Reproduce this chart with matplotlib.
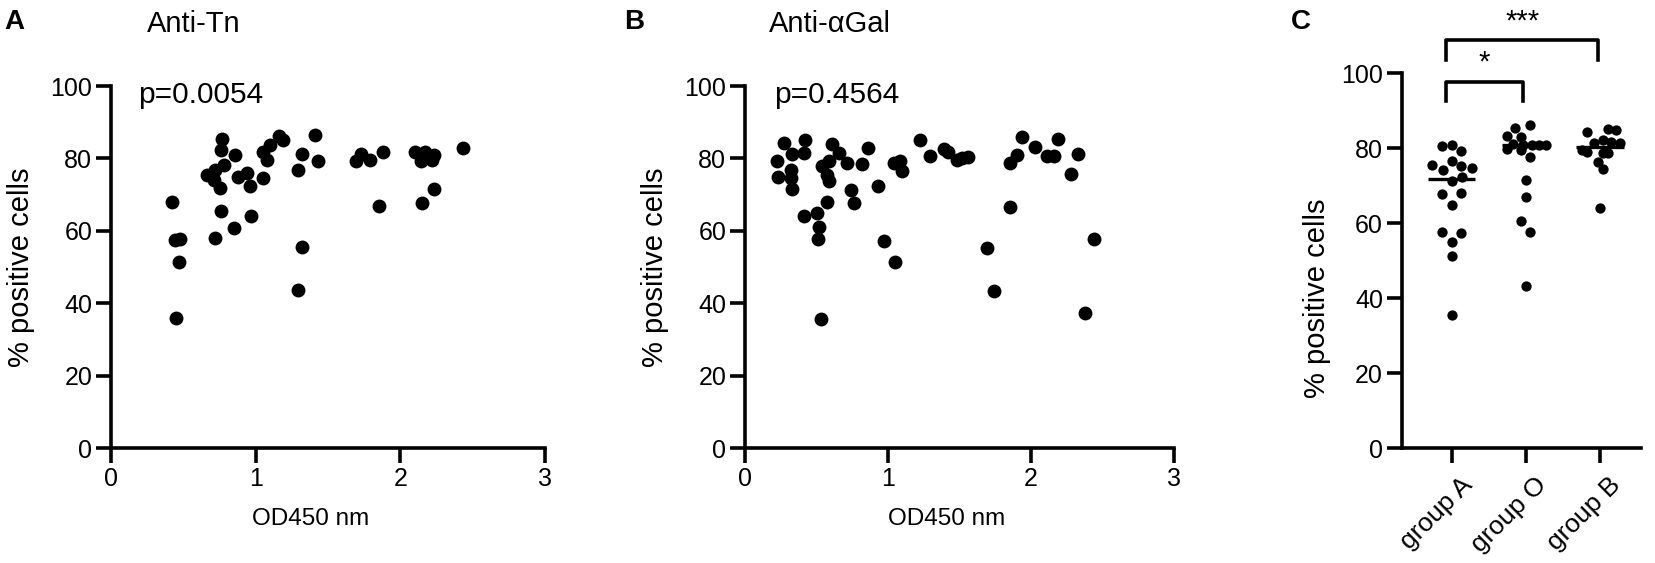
import numpy as np
import matplotlib
matplotlib.use('Agg')
import matplotlib.pyplot as plt
import matplotlib.transforms as mtransforms

plt.rcParams['font.family'] = ['Liberation Sans', 'DejaVu Sans']

# panel A - anti-Tn vs % positive cells
tn_od = [0.77, 0.76, 0.86, 0.78, 0.66, 0.72, 0.71, 0.75, 0.88, 0.94, 0.96, 1.05, 1.08, 1.05, 1.10,
         1.16, 1.19, 1.41, 1.32, 1.43, 1.29, 0.42, 0.76, 0.97, 0.85, 0.72, 0.44, 0.48, 0.47, 1.32,
         1.29, 0.45, 1.69, 1.73, 1.79, 1.88, 1.85, 2.10, 2.17, 2.23, 2.14, 2.22, 2.23, 2.15, 2.43]
tn_pct = [85.4, 82.4, 81.0, 78.3, 75.5, 76.9, 74.1, 71.8, 75.0, 76.0, 72.5, 74.6, 79.6, 81.9, 83.8,
          86.1, 85.2, 86.5, 81.3, 79.2, 76.7, 68.1, 65.4, 64.2, 60.8, 58.0, 57.5, 57.8, 51.5, 55.5,
          43.7, 35.9, 79.4, 81.3, 79.6, 81.9, 66.9, 81.8, 81.7, 81.0, 79.2, 79.6, 71.6, 67.8, 82.9]

# panel B - anti-alphaGal
gal_od = [0.22, 0.23, 0.27, 0.33, 0.32, 0.32, 0.33, 0.42, 0.41, 0.41, 0.50, 0.52, 0.51, 0.57, 0.54,
          0.57, 0.59, 0.59, 0.61, 0.66, 0.71, 0.74, 0.76, 0.86, 0.82, 0.93, 0.97, 1.05, 1.04, 1.08,
          1.10, 1.22, 1.29, 1.39, 1.42, 1.48, 1.52, 1.56, 1.85, 1.90, 1.94, 2.03, 2.11, 2.16, 2.19,
          2.33, 2.28, 1.85, 1.69, 1.74, 2.44, 2.38, 0.53]
gal_pct = [79.4, 74.8, 84.4, 81.1, 76.9, 74.6, 71.6, 85.0, 81.6, 64.1, 65.0, 61.1, 57.8, 67.9, 77.8,
           75.5, 73.7, 79.4, 83.9, 81.6, 78.8, 71.3, 67.6, 82.8, 78.5, 72.3, 57.2, 51.3, 78.8, 79.4,
           76.5, 85.0, 80.6, 82.5, 81.8, 79.7, 80.2, 80.4, 78.8, 80.9, 86.0, 83.2, 80.8, 80.8, 85.5,
           81.3, 75.7, 66.7, 55.2, 43.4, 57.8, 37.3, 35.7]

# panel C - blood groups (jit = horizontal spread of the dots)
groups = ['group A', 'group O', 'group B']
grpA = [80.6, 80.9, 79.4, 75.5, 74.2, 76.7, 75.3, 74.7, 71.3, 72.4, 67.7, 68.0, 64.9, 57.8, 57.3,
        55.1, 51.3, 35.5]
grpA_jit = [-0.13, 0, 0.13, -0.26, -0.12, 0, 0.13, 0.27, 0.01, 0.14, -0.13, 0.13, 0, -0.13, 0.13,
            0, 0, 0]
grpO = [86.2, 85.3, 83.3, 82.9, 81.2, 81.0, 81.0, 80.8, 80.8, 79.7, 79.5, 77.8, 71.5, 67.1, 60.6,
        57.8, 43.3]
grpO_jit = [0.05, -0.15, -0.26, -0.06, -0.17, -0.04, 0.08, 0.17, 0.27, -0.25, -0.06, 0.05, 0, 0,
            -0.06, 0.05, 0]
grpB = [84.3, 85.1, 84.9, 81.3, 79.5, 79.1, 82.2, 81.8, 81.5, 78.8, 78.8, 76.4, 74.4, 64.0]
grpB_jit = [-0.18, 0.11, 0.21, -0.09, -0.25, -0.18, 0.04, 0.15, 0.27, 0.04, 0.11, -0.03, 0.04, 0]

LW = 2.6
FS_TICK = 18
FS_LAB = 21

fig = plt.figure(figsize=(16.55, 5.63), dpi=100)


def style(ax):
    for s in ['top', 'right']:
        ax.spines[s].set_visible(False)
    for s in ['left', 'bottom']:
        ax.spines[s].set_linewidth(LW)
    ax.tick_params(width=LW, length=10.5, labelsize=FS_TICK, direction='out', pad=3)
    ax.set_ylim(0, 100)
    ax.set_yticks([0, 20, 40, 60, 80, 100])


axA = fig.add_axes([0.0671, 0.2037, 0.2622, 0.6435])
axA.scatter(tn_od, tn_pct, s=100, color='black', linewidths=0, clip_on=False)
axA.set_xlim(0, 3)
axA.set_xticks([0, 1, 2, 3])
style(axA)
axA.set_xlabel('OD450 nm', fontsize=17.5)
axA.xaxis.set_label_coords(0.46, -0.165)
axA.set_ylabel('% positive cells', fontsize=FS_LAB, labelpad=11)
axA.text(0.19, 97.5, 'p=0.0054', fontsize=21.5, va='center')

axB = fig.add_axes([0.4502, 0.2037, 0.2592, 0.6435])
axB.scatter(gal_od, gal_pct, s=100, color='black', linewidths=0, clip_on=False)
axB.set_xlim(0, 3)
axB.set_xticks([0, 1, 2, 3])
style(axB)
axB.set_xlabel('OD450 nm', fontsize=17.5)
axB.xaxis.set_label_coords(0.47, -0.165)
axB.set_ylabel('% positive cells', fontsize=FS_LAB, labelpad=11)
axB.text(0.2, 97.5, 'p=0.4564', fontsize=21.5, va='center')

axC = fig.add_axes([0.8470, 0.2037, 0.1446, 0.6661])
for i, (vals, jit) in enumerate([(grpA, grpA_jit), (grpO, grpO_jit), (grpB, grpB_jit)]):
    axC.scatter(np.array(jit) + i, vals, s=55, color='black', linewidths=0, zorder=3)
    axC.hlines(np.median(vals), i - 0.32, i + 0.32, color='black', lw=2.4, zorder=4)
axC.set_xlim(-0.67, 2.55)
style(axC)
axC.set_xticks(range(len(groups)))
axC.set_xticklabels(groups, rotation=45, ha='right', va='top', rotation_mode='anchor',
                    fontsize=19)
axC.tick_params(axis='x', pad=7)
shift = mtransforms.ScaledTranslation(6 / 72, 0, fig.dpi_scale_trans)
for lab in axC.get_xticklabels():
    lab.set_transform(lab.get_transform() + shift)
axC.set_ylabel('% positive cells', fontsize=FS_LAB)
axC.yaxis.set_label_coords(-0.295, 0.40)

# significance brackets
axC.plot([-0.07, -0.07, 0.96, 0.96], [92.5, 97.8, 97.8, 92.5], color='black', lw=LW, clip_on=False)
axC.text(0.445, 99, '*', fontsize=FS_LAB, ha='center', va='bottom')
axC.plot([-0.07, -0.07, 1.97, 1.97], [103.5, 108.9, 108.9, 103.5], color='black', lw=LW, clip_on=False)
axC.text(0.95, 110, '***', fontsize=FS_LAB, ha='center', va='bottom')

# titles and panel letters
fig.text(194 / 1655, 1 - 24 / 563, 'Anti-Tn', fontsize=FS_LAB, ha='center', va='center')
fig.text(830 / 1655, 1 - 24 / 563, 'Anti-\u03b1Gal', fontsize=FS_LAB, ha='center', va='center')
fig.text(4 / 1655, 1 - 22 / 563, 'A', fontsize=20, fontweight='bold', va='center')
fig.text(624 / 1655, 1 - 22 / 563, 'B', fontsize=20, fontweight='bold', va='center')
fig.text(1291 / 1655, 1 - 22 / 563, 'C', fontsize=20, fontweight='bold', va='center')

fig.savefig('out.png', dpi=100)
